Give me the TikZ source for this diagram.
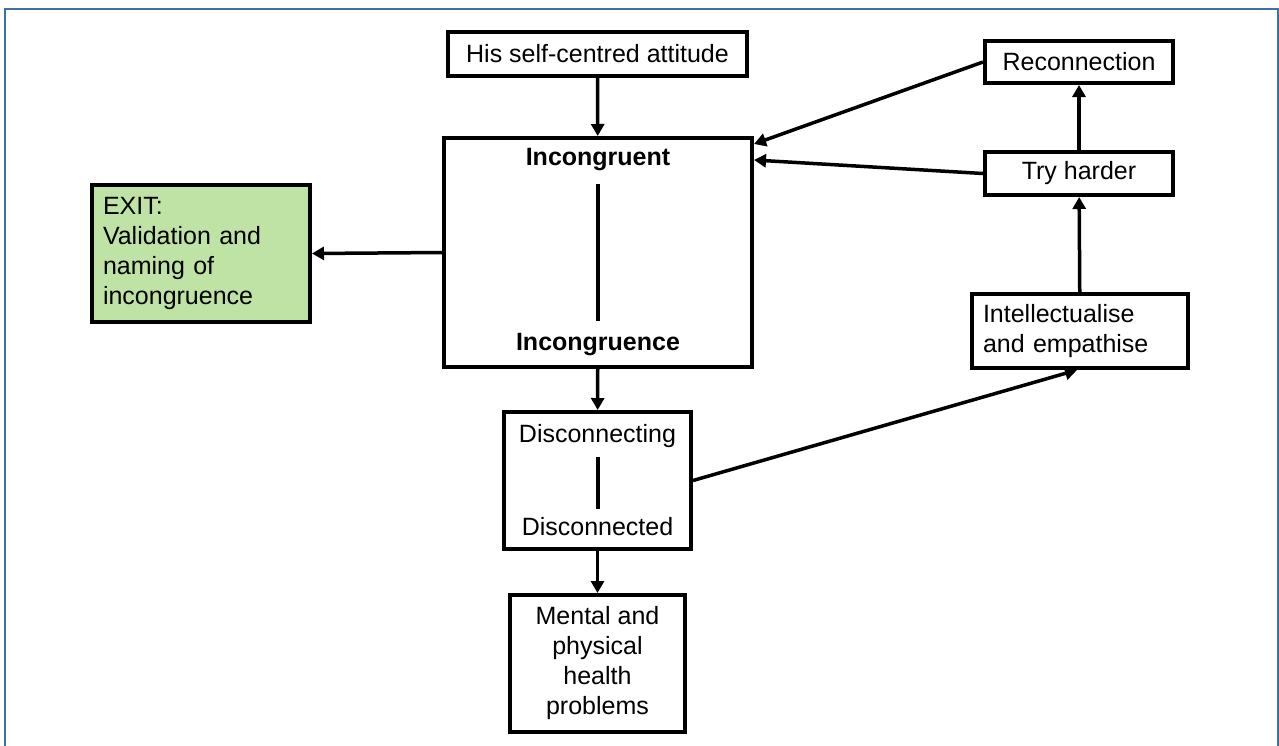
\documentclass[tikz,border=0pt]{standalone}
\usepackage{fontspec}
\setmainfont{Liberation Sans}
\usepackage{tikz}
\usetikzlibrary{arrows.meta, positioning}
\definecolor{framecol}{HTML}{41719C}
\definecolor{exitgreen}{HTML}{BFE3A5}

\begin{document}
\begin{tikzpicture}[
    x=1pt, y=-1pt,
    every node/.style={font=\fontsize{25}{30}\selectfont},
    box/.style={rectangle, draw=black, line width=4pt, fill=white, inner sep=0pt, align=center},
    exitbox/.style={box, fill=exitgreen, align=left, text width=196pt},
    label/.style={inner sep=0pt, align=center},
    bar/.style={line width=4pt},
    arrow/.style={-{Triangle[length=12pt,width=13pt]}, line width=3.5pt}
]
\useasboundingbox (0,0) rectangle (1279,745);
% outer frame, open at the bottom
\draw[framecol, line width=2pt] (5,746) -- (5,9) -- (1277.5,9) -- (1277.5,746);

% boxes
\node[box, minimum width=299pt, minimum height=44pt] (attitude) at (597.5,54) {His self-centred attitude};
\node[box, minimum width=308pt, minimum height=229pt] (incong) at (598,252.5) {};
\node[label, font=\fontsize{25}{30}\selectfont\bfseries] (ingt) at (598,160) {Incongruent};
\node[label, font=\fontsize{25}{30}\selectfont\bfseries] (ince) at (598,345) {Incongruence};
\node[exitbox, minimum width=218pt, minimum height=137pt] (exit) at (201,253.5) {EXIT:\\Validation and\\naming of\\incongruence};
\node[box, minimum width=187pt, minimum height=137pt] (disc) at (597.5,480.5) {};
\node[label] (dcng) at (597.5,436) {Disconnecting};
\node[label] (dctd) at (597.5,527) {Disconnected};
\node[box, minimum width=175pt, minimum height=137pt] (health) at (597.5,663.5) {Mental and\\physical\\health\\problems};
\node[box, minimum width=188pt, minimum height=42pt] (reconn) at (1079,62) {Reconnection};
\node[box, minimum width=188pt, minimum height=43pt] (tryh) at (1079,173.5) {Try harder};
\node[box, align=left, text width=194pt, minimum width=216pt, minimum height=74pt] (intel) at (1080,331) {Intellectualise\\and empathise};

% bars inside the boxes
\draw[bar] ([yshift=-13pt]ingt.south) -- ([yshift=13pt]ince.north);
\draw[bar] ([yshift=-9pt]dcng.south) -- ([yshift=9pt]dctd.north);

% connectors
\draw[arrow] (attitude) -- (incong);
\draw[arrow] (incong.west) -- (exit.east);
\draw[arrow] (incong) -- (disc);
\draw[arrow] (disc) -- (health);
\draw[arrow] (disc.east) -- ([xshift=-3pt]intel.south);
\draw[arrow] (intel) -- (tryh);
\draw[arrow] (tryh) -- (reconn);
\draw[arrow] (reconn.west) -- ([yshift=-8pt]incong.north east);
\draw[arrow] (tryh.west) -- ([yshift=-24pt]incong.north east);
\end{tikzpicture}
\end{document}
